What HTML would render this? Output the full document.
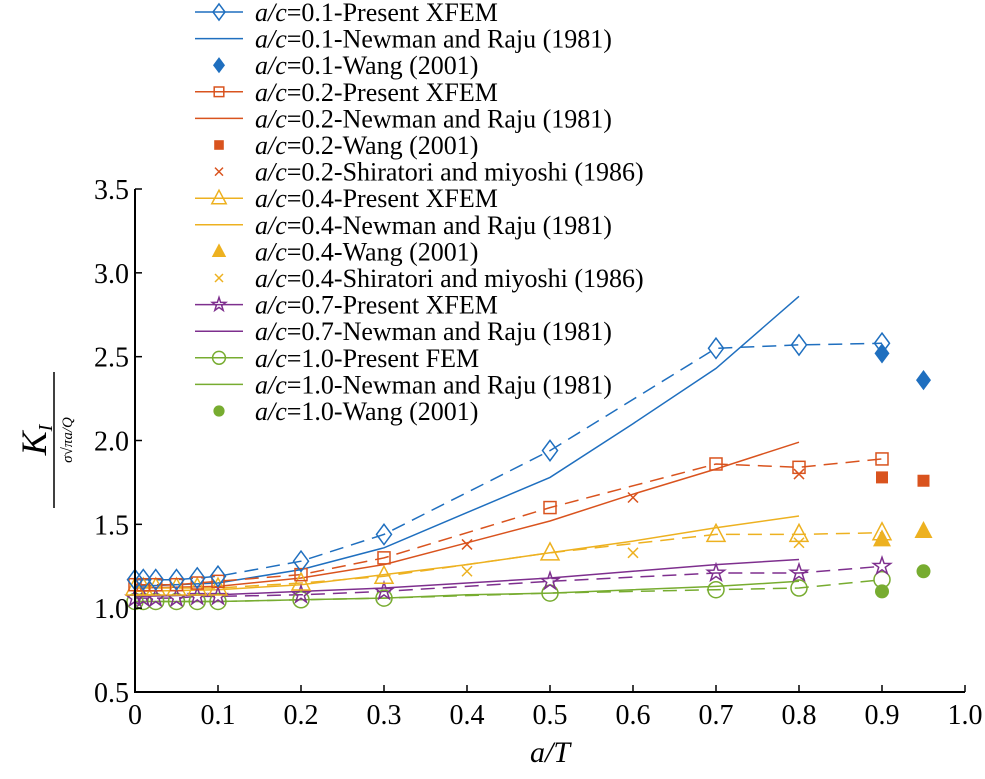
<!DOCTYPE html>
<html><head><meta charset="utf-8"><style>
body{margin:0;background:#fff;}
svg{display:block;font-family:"Liberation Serif",serif;}
</style></head><body>
<svg id="chart" width="985" height="779" xmlns="http://www.w3.org/2000/svg">
<g id="plot"></g>
<g id="axes"></g>
<g id="legend"></g>
<g transform="translate(40,440) rotate(-90)">
<text x="0" y="6" text-anchor="middle" font-size="36" font-style="italic">K<tspan font-size="20" dy="6">I</tspan></text>
<line x1="-68" y1="14" x2="68" y2="14" stroke="#000" stroke-width="1.5"/>
<text x="0" y="32" text-anchor="middle" font-size="15" font-style="italic">σ√πa/Q</text>
</g>
<text x="550" y="762" text-anchor="middle" font-size="30" font-style="italic">a/T</text>
</svg>
<script>
const xTicks=[0,0.1,0.2,0.3,0.4,0.5,0.6,0.7,0.8,0.9,1.0];
const xTickLabels=["0","0.1","0.2","0.3","0.4","0.5","0.6","0.7","0.8","0.9","1.0"];
const yTicks=[0.5,1.0,1.5,2.0,2.5,3.0,3.5];
const yTickLabels=["0.5","1.0","1.5","2.0","2.5","3.0","3.5"];
const xfemX=[0,0.01,0.025,0.05,0.075,0.1,0.2,0.3,0.5,0.7,0.8,0.9];
const xfem01=[1.17,1.17,1.17,1.17,1.18,1.19,1.28,1.44,1.94,2.55,2.57,2.58];
const xfem02=[1.14,1.14,1.14,1.14,1.15,1.16,1.20,1.30,1.60,1.86,1.84,1.89];
const xfem04=[1.12,1.12,1.12,1.12,1.12,1.12,1.15,1.19,1.33,1.44,1.44,1.45];
const xfem07=[1.06,1.06,1.06,1.06,1.07,1.07,1.08,1.10,1.16,1.21,1.21,1.25];
const fem10=[1.04,1.04,1.04,1.04,1.04,1.04,1.05,1.06,1.09,1.11,1.12,1.17];
const nrX=[0,0.1,0.2,0.3,0.4,0.5,0.6,0.7,0.8];
const nr01=[1.13,1.15,1.23,1.36,1.57,1.78,2.10,2.43,2.86];
const nr02=[1.12,1.13,1.18,1.26,1.39,1.52,1.68,1.83,1.99];
const nr04=[1.10,1.11,1.14,1.20,1.26,1.33,1.40,1.48,1.55];
const nr07=[1.07,1.08,1.10,1.12,1.15,1.18,1.22,1.26,1.29];
const nr10=[1.04,1.04,1.05,1.06,1.08,1.09,1.11,1.13,1.16];
const wangX=[0.9,0.95];
const wang01=[2.52,2.36];
const wang02=[1.78,1.76];
const wang04=[1.41,1.46];
const wang10=[1.10,1.22];
const shX=[0.4,0.6,0.8];
const sh02=[1.38,1.66,1.80];
const sh04=[1.22,1.33,1.39];

const NS="http://www.w3.org/2000/svg";
const X0=135,X1=965,Y0=692,Y1=189;
const sx=v=>X0+(v-0)*(X1-X0)/1.0;
const sy=v=>Y0-(v-0.5)*(Y0-Y1)/3.0;
const BLUE="#1f6fbf",RED="#d9531e",ORG="#edb120",PUR="#7e2f8e",GRN="#77ac30";
function el(tag,attrs,parent){const e=document.createElementNS(NS,tag);for(const k in attrs)e.setAttribute(k,attrs[k]);parent.appendChild(e);return e;}
const plot=document.getElementById('plot'),axes=document.getElementById('axes'),legend=document.getElementById('legend');

function marker(type,cx,cy,color,parent,name,k){
  k=k||1;let m;const s=7.5*k;
  if(type==='diamond'||type==='fdiamond'){m=el('polygon',{points:`${cx},${cy-s*1.35} ${cx+s},${cy} ${cx},${cy+s*1.35} ${cx-s},${cy}`},parent);}
  else if(type==='square'||type==='fsquare'){m=el('rect',{x:cx-6*k,y:cy-6*k,width:12*k,height:12*k},parent);}
  else if(type==='tri'||type==='ftri'){m=el('polygon',{points:`${cx},${cy-10*k} ${cx+9*k},${cy+7*k} ${cx-9*k},${cy+7*k}`},parent);}
  else if(type==='circle'||type==='fcircle'){m=el('circle',{cx:cx,cy:cy,r:(type==='fcircle'?7:8)*k},parent);}
  else if(type==='star'){let p=[];for(let i=0;i<10;i++){const r=(i%2?3.5:9)*k;const a=-Math.PI/2+i*Math.PI/5;p.push((cx+r*Math.cos(a)).toFixed(1)+','+(cy+r*Math.sin(a)).toFixed(1));}m=el('polygon',{points:p.join(' ')},parent);}
  else if(type==='x'){const h=5*k;m=el('path',{d:`M${cx-h},${cy-h}L${cx+h},${cy+h}M${cx-h},${cy+h}L${cx+h},${cy-h}`},parent);}
  const filled=type[0]==='f';
  m.setAttribute('fill',filled?color:'none');
  m.setAttribute('stroke',filled?'none':color);
  m.setAttribute('stroke-width','1.5');
  
  
  return m;
}
function line(xs,ys,color,dash,name){
  const d=xs.map((x,i)=>(i?'L':'M')+sx(x).toFixed(1)+','+sy(ys[i]).toFixed(1)).join('');
  const p=el('path',{d:d,fill:'none',stroke:color,'stroke-width':1.5},plot);
  if(dash)p.setAttribute('stroke-dasharray','14,8');
  
  
}
function pts(xs,ys,type,color,name){xs.forEach((x,i)=>marker(type,sx(x),sy(ys[i]),color,plot,name));}

line(nrX,nr10,GRN,false,'line-ac10-newman');
line(nrX,nr07,PUR,false,'line-ac07-newman');
line(nrX,nr04,ORG,false,'line-ac04-newman');
line(nrX,nr02,RED,false,'line-ac02-newman');
line(nrX,nr01,BLUE,false,'line-ac01-newman');
line(xfemX,fem10,GRN,true,'line-ac10-fem');
line(xfemX,xfem07,PUR,true,'line-ac07-xfem');
line(xfemX,xfem04,ORG,true,'line-ac04-xfem');
line(xfemX,xfem02,RED,true,'line-ac02-xfem');
line(xfemX,xfem01,BLUE,true,'line-ac01-xfem');
pts(xfemX,fem10,'circle',GRN,'point-ac10-fem');
pts(xfemX,xfem07,'star',PUR,'point-ac07-xfem');
pts(xfemX,xfem04,'tri',ORG,'point-ac04-xfem');
pts(xfemX,xfem02,'square',RED,'point-ac02-xfem');
pts(xfemX,xfem01,'diamond',BLUE,'point-ac01-xfem');
pts(shX,sh02,'x',RED,'point-ac02-shiratori');
pts(shX,sh04,'x',ORG,'point-ac04-shiratori');
pts(wangX,wang01,'fdiamond',BLUE,'point-ac01-wang');
pts(wangX,wang02,'fsquare',RED,'point-ac02-wang');
pts(wangX,wang04,'ftri',ORG,'point-ac04-wang');
pts(wangX,wang10,'fcircle',GRN,'point-ac10-wang');

let ax=el('path',{d:`M${X0},${Y1}L${X0},${Y0}L${X1},${Y0}`,fill:'none',stroke:'#000','stroke-width':2},axes);

xTicks.forEach((v,i)=>{
  const t=el('line',{x1:sx(v),x2:sx(v),y1:Y0,y2:Y0-7,stroke:'#000','stroke-width':1.5},axes);
  
  const l=el('text',{x:sx(v),y:Y0+32,'text-anchor':'middle','font-size':28},axes);l.textContent=xTickLabels[i];
  
});
yTicks.forEach((v,i)=>{
  const t=el('line',{x1:X0,x2:X0+7,y1:sy(v),y2:sy(v),stroke:'#000','stroke-width':1.5},axes);
  
  const l=el('text',{x:X0-6,y:sy(v)+10,'text-anchor':'end','font-size':28},axes);l.textContent=yTickLabels[i];
  
});

const legItems=[
 ['0.1-Present XFEM',BLUE,true,'diamond'],['0.1-Newman and Raju (1981)',BLUE,true,null],['0.1-Wang (2001)',BLUE,false,'fdiamond'],
 ['0.2-Present XFEM',RED,true,'square'],['0.2-Newman and Raju (1981)',RED,true,null],['0.2-Wang (2001)',RED,false,'fsquare'],['0.2-Shiratori and miyoshi (1986)',RED,false,'x'],
 ['0.4-Present XFEM',ORG,true,'tri'],['0.4-Newman and Raju (1981)',ORG,true,null],['0.4-Wang (2001)',ORG,false,'ftri'],['0.4-Shiratori and miyoshi (1986)',ORG,false,'x'],
 ['0.7-Present XFEM',PUR,true,'star'],['0.7-Newman and Raju (1981)',PUR,true,null],
 ['1.0-Present FEM',GRN,true,'circle'],['1.0-Newman and Raju (1981)',GRN,true,null],['1.0-Wang (2001)',GRN,false,'fcircle']];
legItems.forEach((it,i)=>{
  const cy=12+i*26.6;
  const g=el('g',{},legend);
  
  if(it[2])el('line',{x1:195,x2:243,y1:cy,y2:cy,stroke:it[1],'stroke-width':1.5},g);
  if(it[3])marker(it[3],219,cy,it[1],g,'legend-marker',0.8);
  const t=el('text',{x:255,y:cy+9,'font-size':26,textLength:0},g);
  t.removeAttribute('textLength');
  t.innerHTML='<tspan font-style="italic">a/c</tspan>='+it[0];
});
</script>
</body></html>
